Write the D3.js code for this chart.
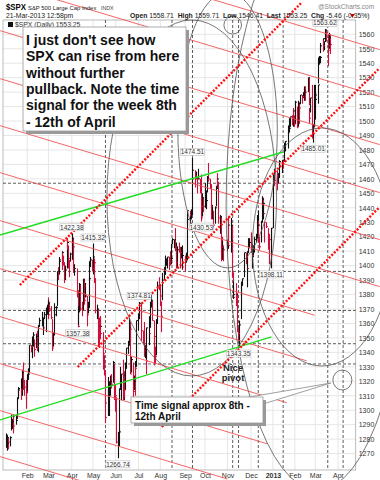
<!DOCTYPE html>
<html><head><meta charset="utf-8">
<script src="https://cdn.jsdelivr.net/npm/d3@7"></script>
<style>body{margin:0;background:#fff}svg{display:block}text{font-family:"Liberation Sans",Arial,sans-serif}</style>
</head><body><svg id="c" width="380" height="480"></svg>
<script>
// ---------- DATA ----------
const monthKeys = ["2012-01","2012-02","2012-03","2012-04","2012-05","2012-06","2012-07","2012-08","2012-09","2012-10","2012-11","2012-12","2013-01","2013-02","2013-03"];
const dayLists = [
 [3,4,5,6,9,10,11,12,13,17,18,19,20,23,24,25,26,27,30,31],
 [1,2,3,6,7,8,9,10,13,14,15,16,17,21,22,23,24,27,28,29],
 [1,2,5,6,7,8,9,12,13,14,15,16,19,20,21,22,23,26,27,28,29,30],
 [2,3,4,5,9,10,11,12,13,16,17,18,19,20,23,24,25,26,27,30],
 [1,2,3,4,7,8,9,10,11,14,15,16,17,18,21,22,23,24,25,29,30,31],
 [1,4,5,6,7,8,11,12,13,14,15,18,19,20,21,22,25,26,27,28,29],
 [2,3,5,6,9,10,11,12,13,16,17,18,19,20,23,24,25,26,27,30,31],
 [1,2,3,6,7,8,9,10,13,14,15,16,17,20,21,22,23,24,27,28,29,30,31],
 [4,5,6,7,10,11,12,13,14,17,18,19,20,21,24,25,26,27,28],
 [1,2,3,4,5,8,9,10,11,12,15,16,17,18,19,22,23,24,25,26,31],
 [1,2,5,6,7,8,9,12,13,14,15,16,19,20,21,23,26,27,28,29,30],
 [3,4,5,6,7,10,11,12,13,14,17,18,19,20,21,24,26,27,28,31],
 [2,3,4,7,8,9,10,11,14,15,16,17,18,22,23,24,25,28,29,30,31],
 [1,4,5,6,7,8,11,12,13,14,15,19,20,21,22,25,26,27,28],
 [1,4,5,6,7,8,11,12,13,14,15,18,19,20,21]
];
const closes = [
 1277,1277,1281,1278,1281,1292,1292,1296,1289,1293,1308,1314,1315,1316,1314,1326,1318,1316,1313,1312,
 1324,1325,1345,1344,1347,1350,1352,1342,1351,1350,1344,1358,1362,1362,1357,1364,1366,1368,1372,1366,
 1374,1370,1364,1343,1352,1366,1371,1371,1396,1394,1403,1404,1409,1405,1402,1392,1397,1416,1412,1405,1403,1408,
 1419,1413,1398,1398,1382,1358,1368,1387,1370,1369,1390,1386,1376,1379,1366,1371,1391,1403,1404,1398,
 1406,1402,1391,1369,1370,1363,1355,1358,1353,1339,1331,1325,1305,1295,1316,1317,1318,1320,1318,1333,1313,1310,
 1278,1279,1285,1315,1315,1325,1308,1324,1314,1329,1343,1345,1357,1356,1325,1335,1313,1320,1331,1329,1362,
 1365,1374,1368,1355,1352,1341,1341,1334,1357,1353,1363,1372,1376,1362,1351,1338,1337,1360,1386,1385,1379,
 1375,1365,1390,1394,1401,1402,1403,1406,1404,1403,1405,1415,1418,1418,1413,1413,1402,1411,1410,1409,1410,1399,1407,
 1404,1404,1432,1438,1429,1433,1437,1460,1466,1462,1460,1461,1460,1460,1456,1441,1433,1447,1441,
 1444,1445,1451,1461,1460,1456,1441,1433,1433,1428,1440,1455,1460,1457,1433,1434,1413,1409,1412,1411,1412,
 1428,1414,1417,1428,1395,1378,1380,1380,1374,1355,1353,1359,1387,1387,1391,1409,1406,1398,1409,1415,1416,
 1409,1407,1410,1413,1418,1419,1428,1428,1419,1413,1430,1446,1436,1443,1430,1427,1419,1418,1402,1426,
 1462,1459,1466,1462,1457,1461,1472,1472,1471,1473,1472,1481,1486,1493,1495,1495,1503,1500,1507,1502,1498,
 1513,1496,1512,1512,1509,1518,1517,1519,1520,1521,1520,1530,1512,1502,1516,1488,1496,1515,1515,
 1518,1525,1540,1541,1544,1552,1557,1552,1555,1563,1561,1552,1549,1558,1553
];
const highs = [
 1284,1279,1283,1281,1282,1297,1294,1297,1295,1297,1309,1315,1316,1322,1315,1328,1333,1321,1313,1321,
 1325,1329,1345,1345,1349,1351,1354,1349,1353,1351,1355,1359,1364,1368,1362,1364,1368,1371,1373,1378,
 1376,1375,1372,1363,1354,1368,1374,1372,1396,1399,1403,1406,1410,1409,1407,1402,1400,1417,1419,1414,1404,1409,
 1422.38,1419,1413,1401,1398,1383,1372,1388,1387,1375,1391,1391,1390,1388,1379,1375,1392,1403,1406,1404,
 1415.32,1405,1403,1391,1373,1370,1364,1365,1365,1354,1345,1338,1327,1312,1316,1323,1320,1324,1325,1334,1332,1318,
 1309,1285,1287,1315,1330,1325,1335,1324,1327,1333,1343,1348,1364,1361,1358,1337,1333,1324,1334,1330,1362,
 1367,1374.81,1374,1367,1355,1361,1345,1341,1357,1357,1365,1375,1380,1376,1362,1352,1344,1363,1389,1392,1387,
 1380,1375,1395,1399,1407,1404,1405,1406,1406,1410,1407,1415,1419,1418,1426,1416,1413,1413,1416,1413,1413,1410,1414,
 1407,1409,1432,1438,1438,1434,1439,1463,1474.51,1466,1460,1465,1461,1467,1460,1463,1441,1450,1447,
 1457,1449,1452,1462,1471,1460,1456,1441,1442,1438,1441,1455,1460,1464,1458,1435,1434,1420,1417,1414,1418,
 1429,1434,1419,1433,1428,1395,1389,1384,1388,1381,1357,1362,1387,1389,1391,1409,1409,1409,1410,1419,1419,
 1423,1413,1415,1414,1420,1422,1435,1438,1431,1420,1431,1448,1447,1443,1430,1430,1426,1422,1414,1426,
 1463,1465,1467,1466,1462,1464,1472,1473,1472,1473,1473,1485,1486,1493,1497,1502,1503,1504,1507,1509,1504,
 1514,1510,1514,1512,1513,1518,1518,1520,1524,1523,1524,1530,1530,1509,1516,1525,1498,1525,1525,
 1520,1525,1544,1545,1545,1554,1557,1556,1555,1563.62,1563,1560,1558,1561,1559.71
];
const lows = [
 1274,1272,1273,1273,1275,1286,1287,1285,1284,1290,1294,1308,1310,1310,1307,1310,1314,1310,1301,1307,
 1312,1321,1326,1340,1336,1342,1344,1337,1343,1341,1341,1340,1358,1358,1356,1352,1363,1354,1366,1363,
 1366,1368,1363,1341,1344,1352,1367,1365,1372,1390,1394,1401,1401,1397,1400,1388,1390,1398,1411,1398,1392,1403,
 1404,1409,1395,1393,1378,1357.38,1359,1368,1369,1365,1369,1383,1373,1378,1358,1367,1371,1389,1399,1396,
 1394,1395,1388,1367,1363,1345,1343,1355,1349,1335,1328,1324,1304,1291,1296,1310,1296,1310,1315,1319,1307,1299,
 1277,1266.74,1275,1285,1314,1307,1307,1307,1309,1314,1329,1339,1345,1347,1325,1326,1309,1314,1320,1310,1330,
 1355,1363,1365,1348,1346,1337,1336,1325,1335,1348,1345,1357,1371,1362,1336,1331,1332,1338,1360,1383,1378,
 1372,1354,1376,1390,1394,1397,1400,1398,1397,1400,1401,1401,1415,1412,1410,1406,1398,1398,1409,1398,1405,1397,1398,
 1396,1402,1404,1428,1429,1429,1432,1435,1460,1458,1454,1460,1450,1460,1450,1441,1430.53,1434,1437,
 1440,1439,1441,1451,1458,1453,1440,1432,1432,1426,1429,1441,1453,1454,1429,1422,1403,1409,1404,1403,1410,
 1412,1414,1409,1418,1392,1377,1377,1378,1372,1354,1348,1343.35,1363,1379,1386,1392,1401,1397,1385,1409,1412,
 1409,1403,1398,1406,1409,1416,1419,1426,1416,1411,1416,1430,1435,1432,1416,1426,1411,1401,1401,1398.11,
 1426,1455,1459,1456,1452,1457,1461,1467,1466,1464,1467,1472,1479,1481,1490,1492,1496,1497,1496,1502,1496,
 1498,1495,1496,1505,1498,1512,1512,1516,1514,1515,1514,1520,1511,1498,1506,1488,1485.01,1496,1514,
 1501,1512,1526,1539,1540,1547,1551,1548,1549,1555,1555,1545,1538,1550,1546.41
];
const yTickValues = [1270,1280,1290,1300,1310,1320,1330,1340,1350,1360,1370,1380,1390,1400,1410,1420,1430,1440,1450,1460,1470,1480,1490,1500,1510,1520,1530,1540,1550,1560];
const xTickDates = ["2012-02-01","2012-03-01","2012-04-02","2012-05-01","2012-06-01","2012-07-02","2012-08-01","2012-09-04","2012-10-01","2012-11-01","2012-12-03","2013-01-02","2013-02-01","2013-03-01","2013-04-01"];
const xTickLabels = ["Feb","Mar","Apr","May","Jun","Jul","Aug","Sep","Oct","Nov","Dec","2013","Feb","Mar","Apr"];
// price labels: date, value, text, side
const priceLabels = [
 ["2012-04-02",1422.38,"1422.38","hi"],["2012-05-01",1415.32,"1415.32","hi"],["2012-04-10",1357.38,"1357.38","lo"],
 ["2012-06-04",1266.74,"1266.74","lo"],["2012-07-03",1374.81,"1374.81","hi"],["2012-09-14",1474.51,"1474.51","hi"],
 ["2012-09-26",1430.53,"1430.53","lo"],["2012-11-16",1343.35,"1343.35","lo"],["2012-12-31",1398.11,"1398.11","lo"],
 ["2013-02-26",1485.01,"1485.01","lo"],["2013-03-14",1563.62,"1563.62","hi"]
];
// annotation lines in data units [date0,value0,date1,value1]
const redLines = [
 ["2011-12-26",1628.2,"2013-05-28",1549.4],["2011-12-26",1595.7,"2013-05-28",1516.9],
 ["2011-12-26",1562.5,"2013-05-28",1483.7],["2011-12-26",1529.3,"2013-05-28",1450.5],
 ["2011-12-26",1496.8,"2013-05-28",1418.0],["2011-12-26",1464.3,"2013-05-28",1385.5],
 ["2011-12-26",1431.1,"2013-02-28",1365.7],["2011-12-26",1397.9,"2013-02-17",1334.2],
 ["2011-12-26",1364.7,"2013-01-21",1305.2],["2011-12-26",1332.2,"2012-12-25",1276.8],
 ["2011-12-26",1299.7,"2012-11-01",1252.4],["2011-12-26",1267.9,"2013-05-28",1189.1],
 ["2011-12-26",1235.4,"2013-05-28",1156.6]
];
const greenLines = [["2011-12-26",1421.2,"2013-01-16",1478.6],["2011-12-26",1293.3,"2012-12-31",1350.7]];
const dottedLines = [["2012-01-22",1386.6,"2013-02-11",1582.3],["2012-04-10",1329.9,"2013-05-28",1536.7],["2012-08-03",1288.4,"2013-05-28",1440.6]];
// ellipses: centre date, centre value, radius in days, radius in points
const ellipses = [
 ["2012-09-13",1446.8,116.2,123.1],["2013-03-04",1441.9,125.8,197.1],["2012-11-01",1493.8,68.4,95.4],
 ["2013-03-10",1412.9,95.7,82.3],["2012-11-08",1566.4,12.3,6.2],["2013-04-07",1320.9,13.7,6.9]
];
const vLineDates = ["2012-05-18","2012-08-17","2012-09-14","2012-11-08","2012-11-16","2012-12-13","2013-01-16","2013-03-18","2013-04-08"];
const hLineValues = [1457,1396,1369,1346,1332];

// ---------- BUILD ----------
const parse = d3.timeParse("%Y-%m-%d");
const dates = [];
monthKeys.forEach((m,i)=>dayLists[i].forEach(d=>dates.push(parse(m+"-"+String(d).padStart(2,"0")))));
const bars = dates.map((d,i)=>({d, c:closes[i], h:highs[i], l:lows[i], up: i===0 ? true : closes[i]>=closes[i-1]}));

const L=3, R=355.7, T=20, B=470;
const x = d3.scaleTime().domain([parse("2012-01-03"), parse("2013-04-01")]).range([6, 338]);
const y = d3.scaleLinear().domain([1270,1560]).range([453.6, 34.3]);
const svg = d3.select("#c");

// grid
const g = svg.append("g");
g.selectAll("line.hg").data(yTickValues).join("line")
 .attr("x1",L).attr("x2",R).attr("y1",d=>y(d)).attr("y2",d=>y(d)).attr("stroke","#e6e6e6").attr("stroke-width",1);
g.selectAll("line.vg").data(xTickDates).join("line")
 .attr("x1",d=>x(parse(d))).attr("x2",d=>x(parse(d))).attr("y1",T).attr("y2",B).attr("stroke","#e6e6e6");
svg.append("rect").attr("x",L).attr("y",T).attr("width",R-L).attr("height",B-T).attr("fill","none").attr("stroke","#aaa").attr("stroke-width",0.8);

// dashed reference lines
svg.selectAll("line.hd").data(hLineValues).join("line")
 .attr("x1",L).attr("x2",R).attr("y1",d=>y(d)).attr("y2",d=>y(d)).attr("stroke","#333").attr("stroke-width",0.8).attr("stroke-dasharray","3,2");
svg.selectAll("line.vd").data(vLineDates).join("line")
 .attr("x1",d=>x(parse(d))).attr("x2",d=>x(parse(d))).attr("y1",T).attr("y2",B).attr("stroke","#333").attr("stroke-width",0.8).attr("stroke-dasharray","3,2");

// y axis
const ya = d3.axisRight(y).tickValues(yTickValues).tickFormat(d3.format("d")).tickSize(0).tickPadding(3);
const yg = svg.append("g").attr("transform",`translate(${R},0)`).call(ya);
yg.select(".domain").remove();
yg.selectAll("text").attr("font-size",7).attr("fill","#333").attr("font-family","Liberation Sans, Arial");
// x axis
const xa = d3.axisBottom(x).tickValues(xTickDates.map(parse)).tickFormat((d,i)=>xTickLabels[i]).tickSize(0).tickPadding(3);
const xg = svg.append("g").attr("transform",`translate(0,${B})`).call(xa);
xg.select(".domain").remove();
xg.selectAll("text").attr("font-size",7).attr("fill","#333").attr("font-family","Liberation Sans, Arial")
 .attr("font-weight",(d,i)=>xTickLabels[i]==="2013"?"bold":"normal");

// price bars
const pb = svg.append("g");
pb.selectAll("line").data(bars).join("line")
 .attr("x1",d=>Math.round(x(d.d))+0.5).attr("x2",d=>Math.round(x(d.d))+0.5)
 .attr("y1",d=>y(d.h)).attr("y2",d=>y(d.l))
 .attr("stroke",d=>d.up?"#111":"#d0103a").attr("stroke-width",1.1);
pb.selectAll("path").data(bars).join("path")
 .attr("d",d=>`M${Math.round(x(d.d))+0.5},${y(d.c)}h1.5`)
 .attr("stroke",d=>d.up?"#111":"#d0103a").attr("stroke-width",1);

const lineXY = d=>[[x(parse(d[0])),y(d[1])],[x(parse(d[2])),y(d[3])]];
// red thin lines
svg.selectAll("path.red").data(redLines).join("path").attr("class","red")
 .attr("d",d=>d3.line()(lineXY(d))).attr("stroke","#f25555").attr("stroke-width",0.9).attr("fill","none");
// ellipses
svg.selectAll("ellipse").data(ellipses).join("ellipse")
 .attr("cx",d=>x(parse(d[0]))).attr("cy",d=>y(d[1]))
 .attr("rx",d=>x(d3.timeDay.offset(parse(d[0]),d[2]))-x(parse(d[0])))
 .attr("ry",d=>y(d[1]-d[3])-y(d[1]))
 .attr("fill","none").attr("stroke","#555").attr("stroke-width",0.8);
// green lines
svg.selectAll("path.green").data(greenLines).join("path").attr("class","green")
 .attr("d",d=>d3.line()(lineXY(d))).attr("stroke","#22dd22").attr("stroke-width",1.4).attr("fill","none");
// dotted lines
svg.selectAll("path.dot").data(dottedLines).join("path").attr("class","dot")
 .attr("d",d=>d3.line()(lineXY(d))).attr("stroke","#ff1010").attr("stroke-width",2.4).attr("stroke-dasharray","2,1.6").attr("fill","none");

// price labels
const pl = svg.append("g").selectAll("g").data(priceLabels).join("g")
 .attr("transform",d=>`translate(${x(parse(d[0]))},${y(d[1])+(d[3]==="hi"?-6:6)})`);
pl.append("rect").attr("x",-12).attr("y",-3.5).attr("width",24).attr("height",7).attr("fill","#fff").attr("stroke","#bbb").attr("stroke-width",0.6);
pl.append("text").attr("text-anchor","middle").attr("dy",2.4).attr("font-size",6.5).attr("fill","#333").text(d=>d[2]);

// header
svg.append("text").attr("x",6).attr("y",10).attr("font-size",9.5).attr("font-weight","bold").attr("textLength",20).attr("lengthAdjust","spacingAndGlyphs").text("$SPX");
svg.append("text").attr("x",28).attr("y",10).attr("font-size",5.9).attr("fill","#222").text("S&P 500 Large Cap Index");
svg.append("text").attr("x",101).attr("y",10).attr("font-size",5.3).attr("fill","#444").text("INDX");
svg.append("text").attr("x",6).attr("y",18).attr("font-size",6.8).attr("fill","#222").text("21-Mar-2013 12:58pm");
svg.append("text").attr("x",318).attr("y",9).attr("font-size",6.5).attr("fill","#888").text("@StockCharts.com");
const hdr = svg.append("text").attr("x",130).attr("y",18).attr("font-size",6.8).attr("fill","#222");
[["Open ","bold"],["1558.71  ","normal"],["High ","bold"],["1559.71  ","normal"],["Low ","bold"],["1546.41  ","normal"],["Last ","bold"],["1553.25  ","normal"],["Chg ","bold"],["-5.46 (-0.35%)","normal"]]
 .forEach(p=>hdr.append("tspan").attr("font-weight",p[1]).attr("xml:space","preserve").text(p[0]));
svg.append("path").attr("d","M350,14h5l-2.5,3.5z").attr("fill","#c00");
// legend
svg.append("rect").attr("x",8).attr("y",22).attr("width",5).attr("height",5).attr("fill","#111");
svg.append("text").attr("x",15).attr("y",27).attr("font-size",6.8).attr("fill","#333").text("$SPX (Daily) 1553.25");

// main note box
const nb = svg.append("g");
nb.append("rect").attr("x",26).attr("y",30).attr("width",163).attr("height",104).attr("fill","#999");
nb.append("rect").attr("x",23).attr("y",27).attr("width",163).attr("height",104).attr("fill","#fff").attr("stroke","#999").attr("stroke-width",0.8);
["I just don't see how","SPX can rise from here","without further","pullback. Note the time","signal for the week 8th","- 12th of April"]
 .forEach((t,i)=>nb.append("text").attr("x",26).attr("y",45+i*16.3).attr("font-size",14).attr("font-weight","bold").attr("fill","#111").text(t));

// time signal callout
const c2 = ellipses[5];
const tipX = x(parse(c2[0])) - (x(d3.timeDay.offset(parse(c2[0]),c2[2]))-x(parse(c2[0]))) - 2, tipY = y(c2[1]) + 3;
svg.append("path").attr("d",`M244,398L${tipX},${tipY}L263,404Z`).attr("fill","#fff").attr("stroke","#888").attr("stroke-width",0.8);
const tb = svg.append("g");
tb.append("rect").attr("x",134).attr("y",400).attr("width",132).attr("height",26).attr("fill","#999");
tb.append("rect").attr("x",131).attr("y",397).attr("width",132).attr("height",26).attr("fill","#fff").attr("stroke","#999").attr("stroke-width",0.8);
tb.append("text").attr("x",135).attr("y",409).attr("font-size",10).attr("font-weight","bold").attr("fill","#111").text("Time signal approx 8th -");
tb.append("text").attr("x",135).attr("y",420).attr("font-size",10).attr("font-weight","bold").attr("fill","#111").text("12th April");
// nice pivot
svg.append("text").attr("x",233).attr("y",371).attr("text-anchor","middle").attr("font-size",9.5).attr("font-weight","bold").attr("fill","#222").text("Nice");
svg.append("text").attr("x",233).attr("y",381).attr("text-anchor","middle").attr("font-size",9.5).attr("font-weight","bold").attr("fill","#222").text("pivot");
</script></body></html>
